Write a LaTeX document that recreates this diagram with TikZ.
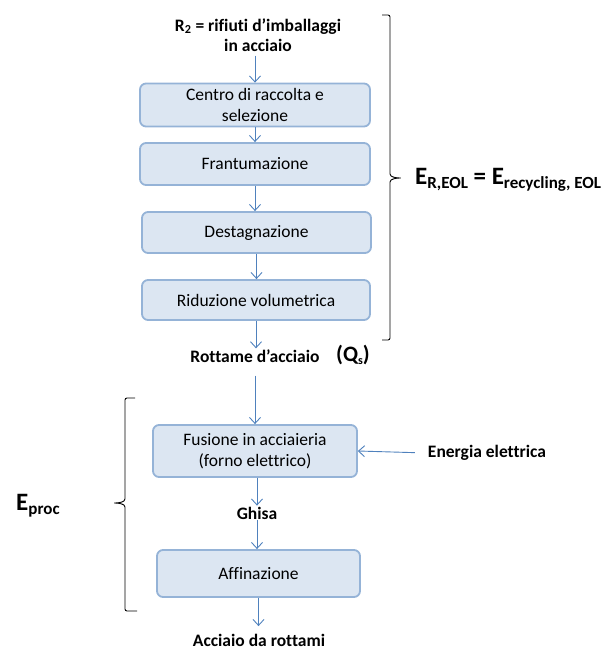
\documentclass[tikz,border=0pt]{standalone}
\usepackage{fontspec}
\setmainfont{Carlito}[Ligatures=NoCommon]
\usetikzlibrary{arrows.meta}
\definecolor{boxfill}{HTML}{DCE6F2}
\definecolor{boxline}{HTML}{95B3D7}
\definecolor{flowblue}{HTML}{4F81BD}
\newcommand{\lowtext}[2][17]{\raisebox{-0.3ex}{\fontsize{#1}{#1}\selectfont #2}}
\tikzset{
  stepbox/.style={draw=boxline, fill=boxfill, line width=1.8pt, rounded corners=6pt,
                  align=center, inner sep=0pt, font=\fontsize{17.5}{21}\selectfont},
  flow/.style={-{Straight Barb[length=6pt, width=11pt]}, draw=flowblue, line width=0.9pt},
  flowlabel/.style={font=\bfseries\fontsize{17.5}{20}\selectfont, align=center, inner sep=1pt},
  bigsym/.style={anchor=west, font=\bfseries\fontsize{25}{25}\selectfont, inner sep=0pt},
  brace/.style={draw=black, line width=0.9pt},
}
\begin{document}
\begin{tikzpicture}[x=1pt, y=-1pt]
  \useasboundingbox (0,0) rectangle (610,650);
  % upper chain
  \node[flowlabel] (input) at (258,35) {R\textsubscript{2} = rifiuti d'imballaggi\\in acciaio};
  \node[stepbox, minimum width=230pt, minimum height=43pt] (raccolta) at (255,105) {Centro di raccolta e\\selezione};
  \node[stepbox, minimum width=230pt, minimum height=42pt] (frant) at (255,164) {Frantumazione};
  \node[stepbox, minimum width=229pt, minimum height=41pt] (destagn) at (256.5,232.5) {Destagnazione};
  \node[stepbox, minimum width=228pt, minimum height=40pt] (riduz) at (256,300) {Riduzione volumetrica};
  \node[flowlabel] (rottame) at (255,356) {Rottame d'acciaio};
  \node[font=\bfseries\fontsize{22}{22}\selectfont, inner sep=1pt] (qs) at (353,355) {(Q\lowtext[12]{s})};
  % lower chain
  \node[stepbox, minimum width=204pt, minimum height=52pt] (fusione) at (255,451) {Fusione in acciaieria\\(forno elettrico)};
  \node[flowlabel] (energia) at (487,453) {Energia elettrica};
  \node[flowlabel] (ghisa) at (257,513) {Ghisa};
  \node[stepbox, minimum width=203pt, minimum height=47pt] (affin) at (258.5,573.5) {Affinazione};
  \node[flowlabel] (acciaio) at (259,640.5) {Acciaio da rottami};
  % connectors
  \draw[flow, shorten <=3pt] (input.south -| raccolta.north) -- (raccolta.north);
  \draw[flow] (raccolta.south) -- (raccolta.south |- frant.north);
  \draw[flow] (frant.south) -- (frant.south |- destagn.north);
  \draw[flow] (destagn.south) -- (destagn.south |- riduz.north);
  \draw[flow] (riduz.south) -- (riduz.south |- rottame.north);
  \draw[flow, shorten <=12pt] (rottame.south) -- (rottame.south |- fusione.north);
  \draw[flow, shorten <=12pt] (energia.west) -- (fusione.east);
  \draw[flow] (fusione.south -| ghisa) -- (ghisa.north);
  \draw[flow] (ghisa.south) -- (ghisa.south |- affin.north);
  \draw[flow, shorten >=7pt] (affin.south) -- (affin.south |- acciaio.north);
  % braces
  \draw[brace, rounded corners=2pt] (382,15) -- (390,15) -- (390,172)
    .. controls (390,177) and (396,178) .. (402,178)
    .. controls (396,178) and (390,179) .. (390,184) -- (390,340) -- (382,340);
  \draw[brace, rounded corners=2pt] (135,398) -- (125,398) -- (125,497)
    .. controls (125,502) and (119,503) .. (113,503)
    .. controls (119,503) and (125,504) .. (125,509) -- (125,611) -- (137,611);
  \node[bigsym] (erec) at (415,180) {E\lowtext{R,EOL} = E\lowtext{recycling, EOL}};
  \node[bigsym] (eproc) at (16,506) {E\lowtext{proc}};
\end{tikzpicture}
\end{document}
